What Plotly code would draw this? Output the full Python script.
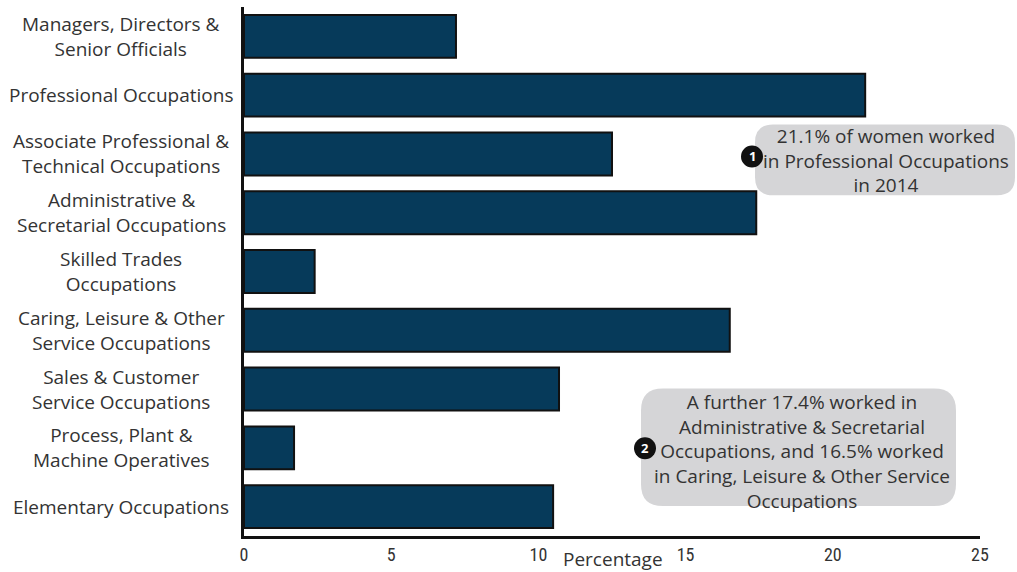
import plotly.graph_objects as go

# Occupation groups (top to bottom) and share of women employed in each, %
occupations = [
    "Managers, Directors &<br>Senior Officials",
    "Professional Occupations",
    "Associate Professional &<br>Technical Occupations",
    "Administrative &<br>Secretarial Occupations",
    "Skilled Trades<br>Occupations",
    "Caring, Leisure & Other<br>Service Occupations",
    "Sales & Customer<br>Service Occupations",
    "Process, Plant &<br>Machine Operatives",
    "Elementary Occupations",
]
share_pct = [7.2, 21.1, 12.5, 17.4, 2.4, 16.5, 10.7, 1.7, 10.5]
x_ticks = [0, 5, 10, 15, 20, 25]

note_1 = "21.1% of women worked<br>in Professional Occupations<br>in 2014"
note_2 = ("A further 17.4% worked in<br>Administrative & Secretarial<br>"
          "Occupations, and 16.5% worked<br>in Caring, Leisure & Other Service<br>Occupations")

W, H = 1017, 572
L, R, T, B = 244, 37, 7, 34
PW, PH = W - L - R, H - T - B
TEXT = "#333333"
FONT = "Open Sans, sans-serif"
FS = 19


def px(xp):
    return (xp - L) / PW


def py(yp):
    return (H - B - yp) / PH


def rounded_box(x0, y0, x1, y1, r):
    """Rounded rectangle path in paper coordinates from pixel corners."""
    rx, ry = r / PW, r / PH
    a, b, c, d = px(x0), py(y1), px(x1), py(y0)  # left, bottom, right, top
    return (f"M{a+rx},{b} L{c-rx},{b} Q{c},{b} {c},{b+ry} L{c},{d-ry} "
            f"Q{c},{d} {c-rx},{d} L{a+rx},{d} Q{a},{d} {a},{d-ry} "
            f"L{a},{b+ry} Q{a},{b} {a+rx},{b} Z")


fig = go.Figure(go.Bar(
    x=share_pct,
    y=occupations,
    orientation="h",
    width=0.73,
    marker=dict(color="#063a5a", line=dict(color="#111111", width=2)),
    hoverinfo="x+y",
))

annotations = []
for occ in occupations:
    annotations.append(dict(
        x=px(121), xref="paper", y=occ, yref="y", text=occ, showarrow=False,
        xanchor="center", yanchor="middle", align="center",
        font=dict(family=FONT, size=FS, color=TEXT),
    ))

annotations.append(dict(
    x=px(613), xref="paper", y=py(561), yref="paper", text="Percentage",
    showarrow=False, xanchor="center", yanchor="middle",
    font=dict(family=FONT, size=FS, color=TEXT),
))

# callout text
annotations.append(dict(
    x=px(886), xref="paper", y=py(161), yref="paper", text=note_1,
    showarrow=False, xanchor="center", yanchor="middle", align="center",
    font=dict(family=FONT, size=FS, color=TEXT),
))
annotations.append(dict(
    x=px(802), xref="paper", y=py(453), yref="paper", text=note_2,
    showarrow=False, xanchor="center", yanchor="middle", align="center",
    font=dict(family=FONT, size=FS, color=TEXT),
))

shapes = [
    dict(type="path", xref="paper", yref="paper",
         path=rounded_box(755, 125, 1015, 196, 18),
         fillcolor="#d5d5d7", line=dict(width=0), layer="below"),
    dict(type="path", xref="paper", yref="paper",
         path=rounded_box(641, 390, 956, 508, 22),
         fillcolor="#d5d5d7", line=dict(width=0), layer="below"),
]

# numbered markers
for num, (cx, cy) in (("1", (752, 157)), ("2", (645, 450))):
    r = 11
    shapes.append(dict(
        type="circle", xref="paper", yref="paper",
        x0=px(cx - r), x1=px(cx + r), y0=py(cy + r), y1=py(cy - r),
        fillcolor="#111111", line=dict(width=0),
    ))
    annotations.append(dict(
        x=px(cx), xref="paper", y=py(cy), yref="paper", text=f"<b>{num}</b>",
        showarrow=False, xanchor="center", yanchor="middle",
        font=dict(family=FONT, size=13, color="white"),
    ))

fig.update_layout(
    width=W, height=H,
    margin=dict(l=L, r=R, t=T, b=B, pad=0),
    paper_bgcolor="white", plot_bgcolor="white",
    showlegend=False,
    bargap=0.27,
    xaxis=dict(
        range=[0, 25], tickvals=x_ticks, showgrid=False, zeroline=False,
        showline=True, linecolor="#111111", linewidth=3, ticks="",
        tickfont=dict(family="Liberation Sans Narrow, Roboto Condensed, sans-serif",
                      size=18, color=TEXT),
        fixedrange=True,
    ),
    yaxis=dict(
        type="category", categoryorder="array", categoryarray=occupations,
        range=[len(occupations) - 0.5, -0.5], showticklabels=False,
        showgrid=False, zeroline=False, showline=True,
        linecolor="#111111", linewidth=3, ticks="", fixedrange=True,
    ),
    annotations=annotations,
    shapes=shapes,
)

fig.write_html("out.html")
